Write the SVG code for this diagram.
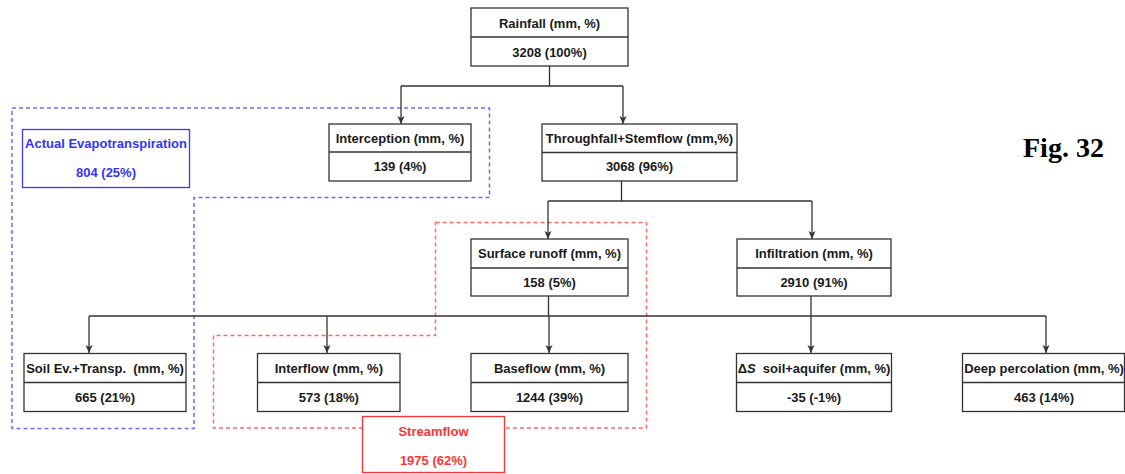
<svg xmlns="http://www.w3.org/2000/svg" width="1125" height="474" viewBox="0 0 1125 474">
<style>
.box{fill:#fff;stroke:#333;stroke-width:1.3}
.div{stroke:#333;stroke-width:1.3}
.t{font-family:"Liberation Sans",Arial,sans-serif;font-size:13px;font-weight:bold;fill:#1a1a1a;text-anchor:middle}
.con{fill:none;stroke:#333;stroke-width:1.3}
.arr{fill:none;stroke:#333;stroke-width:1.3;marker-end:url(#ah)}
.bdash{fill:none;stroke:#6a6aff;stroke-width:1.5;stroke-dasharray:4 3}
.rdash{fill:none;stroke:#ff6a6a;stroke-width:1.5;stroke-dasharray:4 3}
</style>
<defs>
<marker id="ah" viewBox="0 0 8 8" refX="8" refY="4" markerWidth="8" markerHeight="8" markerUnits="userSpaceOnUse" orient="auto">
<path d="M0,0.5 L8,4 L0,7.5 L2,4 z" fill="#333"/>
</marker>
</defs>
<rect width="1125" height="474" fill="#fff"/>

<g id="groups">
<path class="bdash" d="M12,108 H489.5 V197.5 H194 V428.5 H12 Z"/>
<path class="rdash" d="M435.5,222.5 H646.5 V428 H213.5 V335.5 H435.5 Z"/>
</g>

<g id="connectors">
<path class="con" d="M549.5,66 V86 M401,86 H623"/>
<path class="arr" d="M401,86 V124"/>
<path class="arr" d="M623,86 V124"/>
<path class="con" d="M621.5,181 V201 M548,201 H812"/>
<path class="arr" d="M548,201 V239"/>
<path class="arr" d="M812,201 V239"/>
<path class="con" d="M548.5,296 V316 M89,316 H1046 M811,296 V316"/>
<path class="arr" d="M89,316 V353"/>
<path class="arr" d="M327,316 V353"/>
<path class="arr" d="M549,316 V353"/>
<path class="arr" d="M811,316 V353"/>
<path class="arr" d="M1046,316 V353"/>
</g>

<g id="rainfall">
<rect class="box" x="471" y="8" width="157" height="58"/>
<line class="div" x1="471" y1="37" x2="628" y2="37"/>
<text class="t" x="549.5" y="27.5">Rainfall (mm, %)</text>
<text class="t" x="549.5" y="56.5">3208 (100%)</text>
</g>

<g id="interception">
<rect class="box" x="329" y="124" width="142" height="57"/>
<line class="div" x1="329" y1="152" x2="471" y2="152"/>
<text class="t" x="400" y="142.5">Interception (mm, %)</text>
<text class="t" x="400" y="171">139 (4%)</text>
</g>

<g id="throughfall">
<rect class="box" x="542" y="124" width="195" height="57"/>
<line class="div" x1="542" y1="152.5" x2="737" y2="152.5"/>
<text class="t" x="639.5" y="142.5">Throughfall+Stemflow (mm,%)</text>
<text class="t" x="639.5" y="171">3068 (96%)</text>
</g>

<g id="actual-et">
<rect x="22.5" y="129.5" width="167" height="58" fill="#fff" stroke="#3838ff" stroke-width="1.3"/>
<text class="t" x="106" y="148" style="fill:#3333ff">Actual Evapotranspiration</text>
<text class="t" x="106" y="177" style="fill:#3333ff">804 (25%)</text>
</g>

<g id="surface-runoff">
<rect class="box" x="471" y="239" width="157" height="57"/>
<line class="div" x1="471" y1="268" x2="628" y2="268"/>
<text class="t" x="549.5" y="258">Surface runoff (mm, %)</text>
<text class="t" x="549.5" y="286.5">158 (5%)</text>
</g>

<g id="infiltration">
<rect class="box" x="737" y="239" width="154" height="57"/>
<line class="div" x1="737" y1="268" x2="891" y2="268"/>
<text class="t" x="814" y="258">Infiltration (mm, %)</text>
<text class="t" x="814" y="286.5">2910 (91%)</text>
</g>

<g id="soil">
<rect class="box" x="24" y="353.5" width="162" height="58"/>
<line class="div" x1="24" y1="382.5" x2="186" y2="382.5"/>
<text class="t" x="105" y="372.5">Soil Ev.+Transp.&#160; (mm, %)</text>
<text class="t" x="105" y="401.5">665 (21%)</text>
</g>

<g id="interflow">
<rect class="box" x="257.5" y="353.5" width="142.5" height="58"/>
<line class="div" x1="257.5" y1="382.5" x2="400" y2="382.5"/>
<text class="t" x="328.8" y="372.5">Interflow (mm, %)</text>
<text class="t" x="328.8" y="401.5">573 (18%)</text>
</g>

<g id="baseflow">
<rect class="box" x="471" y="353.5" width="157" height="58"/>
<line class="div" x1="471" y1="382.5" x2="628" y2="382.5"/>
<text class="t" x="549.5" y="372.5">Baseflow (mm, %)</text>
<text class="t" x="549.5" y="401.5">1244 (39%)</text>
</g>

<g id="delta-s">
<rect class="box" x="736.5" y="353.5" width="155" height="58"/>
<line class="div" x1="736.5" y1="382.5" x2="891.5" y2="382.5"/>
<text class="t" x="814" y="372.5">Δ<tspan font-style="italic">S</tspan>&#160; soil+aquifer (mm, %)</text>
<text class="t" x="814" y="401.5">-35 (-1%)</text>
</g>

<g id="deep-percolation">
<rect class="box" x="962.5" y="353.5" width="162" height="58"/>
<line class="div" x1="962.5" y1="382.5" x2="1124.5" y2="382.5"/>
<text class="t" x="1044" y="372.5">Deep percolation (mm, %)</text>
<text class="t" x="1044" y="401.5">463 (14%)</text>
</g>

<g id="streamflow">
<rect x="362.5" y="416.5" width="142" height="56" fill="#fff" stroke="#ff3333" stroke-width="1.3"/>
<text class="t" x="433.5" y="435.5" style="fill:#ff3333">Streamflow</text>
<text class="t" x="433.5" y="464.5" style="fill:#ff3333">1975 (62%)</text>
</g>

<g id="caption">
<text x="1023" y="156.5" font-family="'Liberation Serif','Times New Roman',serif" font-size="28" font-weight="bold" fill="#000">Fig. 32</text>
</g>
</svg>
